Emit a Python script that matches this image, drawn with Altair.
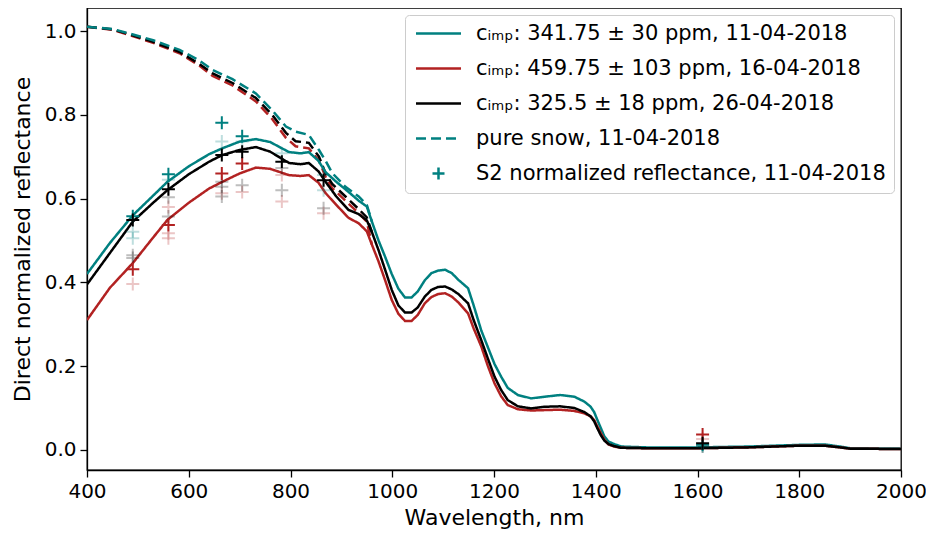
import altair as alt
import pandas as pd

# ---------------- data ----------------
WL = [400, 445, 490, 530, 558, 600, 640, 666, 700, 732, 760, 797, 820, 836, 855, 869, 890, 914,
      934, 950, 960, 973, 986, 999, 1012, 1025, 1038, 1050, 1064, 1077, 1090, 1104, 1117, 1130,
      1149, 1160, 1175, 1188, 1201, 1214, 1227, 1247, 1273, 1300, 1330, 1358, 1378, 1390, 1397,
      1403, 1410, 1417, 1425, 1436, 1450, 1500, 1600, 1700, 1750, 1800, 1850, 1880, 1900, 2000]

TEAL = [0.42, 0.494, 0.56, 0.607, 0.64, 0.677, 0.706, 0.72, 0.736, 0.742, 0.735, 0.711, 0.708, 0.711,
        0.69, 0.663, 0.64, 0.616, 0.595, 0.581, 0.545, 0.50, 0.461, 0.42, 0.385, 0.364, 0.364, 0.378,
        0.405, 0.422, 0.428, 0.43, 0.422, 0.406, 0.386, 0.345, 0.285, 0.245, 0.205, 0.175, 0.148,
        0.131, 0.123, 0.127, 0.131, 0.127, 0.115, 0.103, 0.09, 0.072, 0.052, 0.032, 0.02, 0.014,
        0.008, 0.006, 0.006, 0.008, 0.010, 0.012, 0.013, 0.008, 0.004, 0.003]

RED = [0.31, 0.387, 0.446, 0.507, 0.549, 0.59, 0.624, 0.64, 0.66, 0.674, 0.671, 0.656, 0.654, 0.656,
       0.638, 0.613, 0.585, 0.554, 0.541, 0.522, 0.49, 0.45, 0.405, 0.358, 0.325, 0.308, 0.308, 0.322,
       0.35, 0.365, 0.372, 0.374, 0.366, 0.352, 0.326, 0.29, 0.247, 0.20, 0.159, 0.128, 0.107,
       0.097, 0.094, 0.095, 0.096, 0.093, 0.087, 0.08, 0.071, 0.056, 0.04, 0.024, 0.013, 0.008,
       0.005, 0.004, 0.004, 0.006, 0.008, 0.010, 0.010, 0.006, 0.003, 0.002]

BLACK = [0.395, 0.47, 0.545, 0.59, 0.62, 0.658, 0.688, 0.704, 0.716, 0.723, 0.712, 0.685, 0.682, 0.685,
         0.665, 0.64, 0.605, 0.573, 0.563, 0.548, 0.52, 0.477, 0.43, 0.382, 0.345, 0.328, 0.328, 0.34,
         0.366, 0.382, 0.389, 0.39, 0.383, 0.372, 0.35, 0.31, 0.262, 0.218, 0.175, 0.143, 0.119,
         0.104, 0.099, 0.103, 0.104, 0.10, 0.09, 0.08, 0.068, 0.052, 0.035, 0.022, 0.014, 0.009,
         0.005, 0.004, 0.004, 0.006, 0.008, 0.010, 0.010, 0.006, 0.003, 0.002]

WL_PURE = [400, 450, 484, 530, 582, 620, 647, 686, 732, 764, 791, 810, 836, 856, 869, 882, 908, 934, 950, 960]
TEAL_PURE = [1.01, 1.005, 0.994, 0.978, 0.955, 0.93, 0.907, 0.885, 0.851, 0.811, 0.772, 0.76, 0.752,
             0.716, 0.69, 0.661, 0.628, 0.605, 0.585, 0.545]
RED_PURE = [1.01, 1.003, 0.99, 0.972, 0.947, 0.918, 0.893, 0.870, 0.832, 0.79, 0.745, 0.725, 0.72,
            0.69, 0.652, 0.625, 0.595, 0.565, 0.545, 0.49]
BLACK_PURE = [1.01, 1.004, 0.992, 0.974, 0.95, 0.922, 0.899, 0.876, 0.84, 0.80, 0.757, 0.737, 0.733,
              0.70, 0.66, 0.635, 0.605, 0.575, 0.555, 0.52]

# Sentinel-2 pixels: (band wavelength, value)
TEAL_S2 = [(490, 0.558), (560, 0.658), (665, 0.781), (705, 0.749), (1610, 0.012)]
TEAL_S2_FADED = [(490, 0.521), (490, 0.505), (560, 0.645), (665, 0.736), (705, 0.736), (783, 0.708),
                 (865, 0.656), (865, 0.62), (1610, 0.008)]
RED_S2 = [(490, 0.431), (560, 0.537), (665, 0.66), (705, 0.684), (1610, 0.037)]
RED_S2_FADED = [(490, 0.396), (560, 0.517), (560, 0.505), (560, 0.58), (665, 0.613), (705, 0.616),
                (783, 0.656), (783, 0.593), (865, 0.565), (1610, 0.026)]
BLACK_S2 = [(490, 0.549), (560, 0.622), (665, 0.704), (705, 0.712), (783, 0.688), (865, 0.644), (1610, 0.016)]
BLACK_S2_FADED = [(490, 0.465), (490, 0.458), (560, 0.603), (560, 0.557), (665, 0.64), (665, 0.628),
                  (665, 0.605), (705, 0.632), (783, 0.673), (783, 0.62), (865, 0.577), (1610, 0.008)]

LABELS = [
    "\u2009c\u1d62\u2098\u209a: 341.75 ± 30 ppm, 11-04-2018",
    "\u2009c\u1d62\u2098\u209a: 459.75 ± 103 ppm, 16-04-2018",
    "\u2009c\u1d62\u2098\u209a: 325.5 ± 18 ppm, 26-04-2018",
    "pure snow, 11-04-2018",
    "S2 normalized reflectance, 11-04-2018",
]
C_TEAL, C_RED, C_BLACK = "#008080", "#b22222", "#000000"
COLORS = [C_TEAL, C_RED, C_BLACK, C_TEAL, C_TEAL]
DASHES = [[1, 0], [1, 0], [1, 0], [10, 5], [1, 0]]
LINE_PATH = "M-3,0H3"
PLUS_PATH = "M-0.8,0H0.8M0,-0.8V0.8"
SHAPES = [LINE_PATH, LINE_PATH, LINE_PATH, LINE_PATH, PLUS_PATH]

# ---------------- tables ----------------
line_df = pd.concat([
    pd.DataFrame({"wl": WL, "val": TEAL, "key": LABELS[0]}),
    pd.DataFrame({"wl": WL, "val": RED, "key": LABELS[1]}),
    pd.DataFrame({"wl": WL, "val": BLACK, "key": LABELS[2]}),
    pd.DataFrame({"wl": WL_PURE, "val": TEAL_PURE, "key": LABELS[3]}),
], ignore_index=True)
red_pure_df = pd.DataFrame({"wl": WL_PURE, "val": RED_PURE})
black_pure_df = pd.DataFrame({"wl": WL_PURE, "val": BLACK_PURE})


def pts(lst, key=None):
    d = pd.DataFrame(lst, columns=["wl", "val"])
    if key is not None:
        d["key"] = key
    return d


xs = alt.Scale(domain=[400, 2000], nice=False, zero=False)
ys = alt.Scale(domain=[-0.048, 1.055], nice=False, zero=False)
xaxis = alt.Axis(values=list(range(400, 2001, 200)), format="d", title="Wavelength, nm", grid=False,
                 labelFlush=False)
yaxis = alt.Axis(values=[0, 0.2, 0.4, 0.6, 0.8, 1.0], format=".1f",
                 title="Direct normalized reflectance", grid=False, labelFlush=False)


def X():
    return alt.X("wl:Q", scale=xs, axis=xaxis)


def Y():
    return alt.Y("val:Q", scale=ys, axis=yaxis)


leg = alt.Legend(title=None)
color_enc = alt.Color("key:N", scale=alt.Scale(domain=LABELS, range=COLORS), legend=leg)

solid = alt.Chart(line_df).mark_line(strokeWidth=2.5, clip=True).encode(
    x=X(), y=Y(), color=color_enc,
    strokeDash=alt.StrokeDash("key:N", scale=alt.Scale(domain=LABELS, range=DASHES), legend=leg),
    order=alt.Order("wl:Q"),
)
red_pure = alt.Chart(red_pure_df).mark_line(strokeWidth=2.5, color=C_RED, strokeDash=[10, 5]).encode(
    x=X(), y=Y(), order=alt.Order("wl:Q"))
black_pure = alt.Chart(black_pure_df).mark_line(strokeWidth=2.5, color=C_BLACK, strokeDash=[10, 5]).encode(
    x=X(), y=Y(), order=alt.Order("wl:Q"))

PSIZE = 264


def faded(lst, color):
    return alt.Chart(pts(lst)).mark_point(shape=PLUS_PATH, filled=False, strokeWidth=2,
                                          color=color, opacity=0.25, size=PSIZE).encode(x=X(), y=Y())


def solidpts(lst, color):
    return alt.Chart(pts(lst)).mark_point(shape=PLUS_PATH, filled=False, strokeWidth=2,
                                          color=color, opacity=1, size=PSIZE).encode(x=X(), y=Y())


teal_pts = alt.Chart(pts(TEAL_S2, LABELS[4])).mark_point(filled=False, strokeWidth=2, opacity=1, size=PSIZE).encode(
    x=X(), y=Y(), color=color_enc,
    shape=alt.Shape("key:N", scale=alt.Scale(domain=LABELS, range=SHAPES), legend=leg),
)

chart = alt.layer(
    red_pure, black_pure, solid,
    faded(TEAL_S2_FADED, C_TEAL), faded(RED_S2_FADED, C_RED), faded(BLACK_S2_FADED, C_BLACK),
    teal_pts, solidpts(RED_S2, C_RED), solidpts(BLACK_S2, C_BLACK),
).properties(
    width=814, height=462,
    autosize=alt.AutoSizeParams(type="none"),
    padding={"left": 79, "top": 0, "right": 25, "bottom": 61},
).configure_view(
    stroke="black", strokeWidth=1.3
).configure_axis(
    labelFont="DejaVu Sans", titleFont="DejaVu Sans", labelFontSize=20, titleFontSize=22,
    titleFontWeight="normal", labelColor="black", titleColor="black",
    tickColor="black", domainColor="black", tickSize=7, tickWidth=1.3, domainWidth=1.3,
).configure_axisX(
    labelPadding=4, titlePadding=6,
).configure_axisY(
    labelPadding=4, titlePadding=10,
).configure_legend(
    orient="top-right", offset=7, padding=8, strokeColor="#cccccc", cornerRadius=4,
    fillColor="rgba(255,255,255,0.8)", labelFont="DejaVu Sans", labelFontSize=21, labelColor="black",
    labelLimit=600, symbolSize=225, symbolStrokeWidth=2.5, symbolOffset=15, labelOffset=27,
    rowPadding=13,
)

chart.save("out.html", embed_options={"renderer": "svg", "actions": False})
